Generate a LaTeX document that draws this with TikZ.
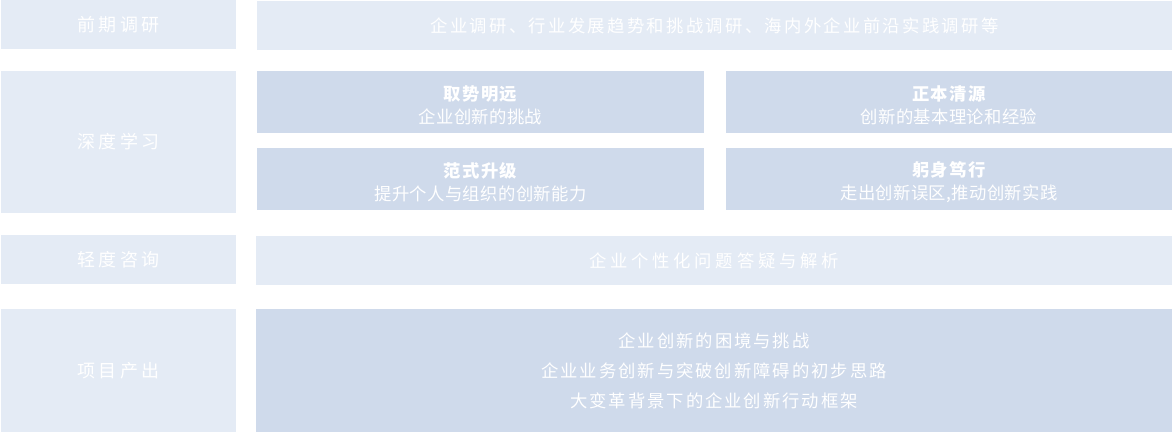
\documentclass[tikz,border=0pt]{standalone}
\usepackage{fontspec}
\setmainfont{Noto Sans CJK SC}
\definecolor{cellpale}{RGB}{228,235,245}
\definecolor{celldeep}{RGB}{207,218,235}
\newcommand\cellhead[1]{{\bfseries\addfontfeature{LetterSpace=8}#1}}

\begin{document}
\begin{tikzpicture}[
  x=0.75pt, y=-0.75pt,
  cell/.style={rectangle, anchor=north west, inner sep=0pt, outer sep=0pt, text=white, align=center},
  pale/.style={cell, fill=cellpale},
  deep/.style={cell, fill=celldeep},
  stage/.style={pale, minimum width=176.25pt, font=\fontsize{13.5}{15}\selectfont\addfontfeature{LetterSpace=20}},
  half/.style={deep, minimum width=335.25pt, minimum height=46.5pt},
  halftext/.style={text=white, align=center, inner sep=0pt, font=\fontsize{13}{17.25}\selectfont\addfontfeature{LetterSpace=2}},
  font=\fontsize{13}{15}\selectfont
]
\useasboundingbox (0,0) rectangle (1175,432);

% Stages
\node[stage, minimum height=36.75pt] (pre) at (1,0) {前期调研};
\node[stage, minimum height=106.5pt] (study) at (1,71) {深度学习};
\node[stage, minimum height=36.75pt] (consult) at (1,235) {轻度咨询};
\node[stage, minimum height=92.25pt] (out) at (1,309) {项目产出};

% Research
\node[pale, minimum width=686.25pt, minimum height=36.75pt, font=\fontsize{13}{15}\selectfont\addfontfeature{LetterSpace=13.5}] (survey) at (257,1) {企业调研、行业发展趋势和挑战调研、海内外企业前沿实践调研等};

% Learning modules
\node[half] (trend) at (257,71) {};
\node[half, minimum width=334.5pt] (root) at (726,71) {};
\node[half] (shift) at (257,148) {};
\node[half, minimum width=334.5pt] (act) at (726,148) {};
\node[halftext] (trendtxt) at ([yshift=-2.6pt]trend.center) {\cellhead{取势明远}\\企业创新的挑战};
\node[halftext] (roottxt) at ([yshift=-2.6pt]root.center) {\cellhead{正本清源}\\创新的基本理论和经验};
\node[halftext] (shifttxt) at ([yshift=-2.6pt]shift.center) {\cellhead{范式升级}\\提升个人与组织的创新能力};
\node[halftext] (acttxt) at ([yshift=-2.6pt]act.center) {\cellhead{躬身笃行}\\走出创新误区,推动创新实践};

% Consulting
\node[pale, minimum width=687pt, minimum height=36.75pt, font=\fontsize{13}{15}\selectfont\addfontfeature{LetterSpace=22}] (answer) at (256,236) {企业个性化问题答疑与解析};

% Output
\node[deep, minimum width=687pt, minimum height=92.25pt, font=\fontsize{13}{22.5}\selectfont\addfontfeature{LetterSpace=11.5}] (result) at (256,309) {企业创新的困境与挑战\\企业业务创新与突破创新障碍的初步思路\\大变革背景下的企业创新行动框架};
\end{tikzpicture}
\end{document}
